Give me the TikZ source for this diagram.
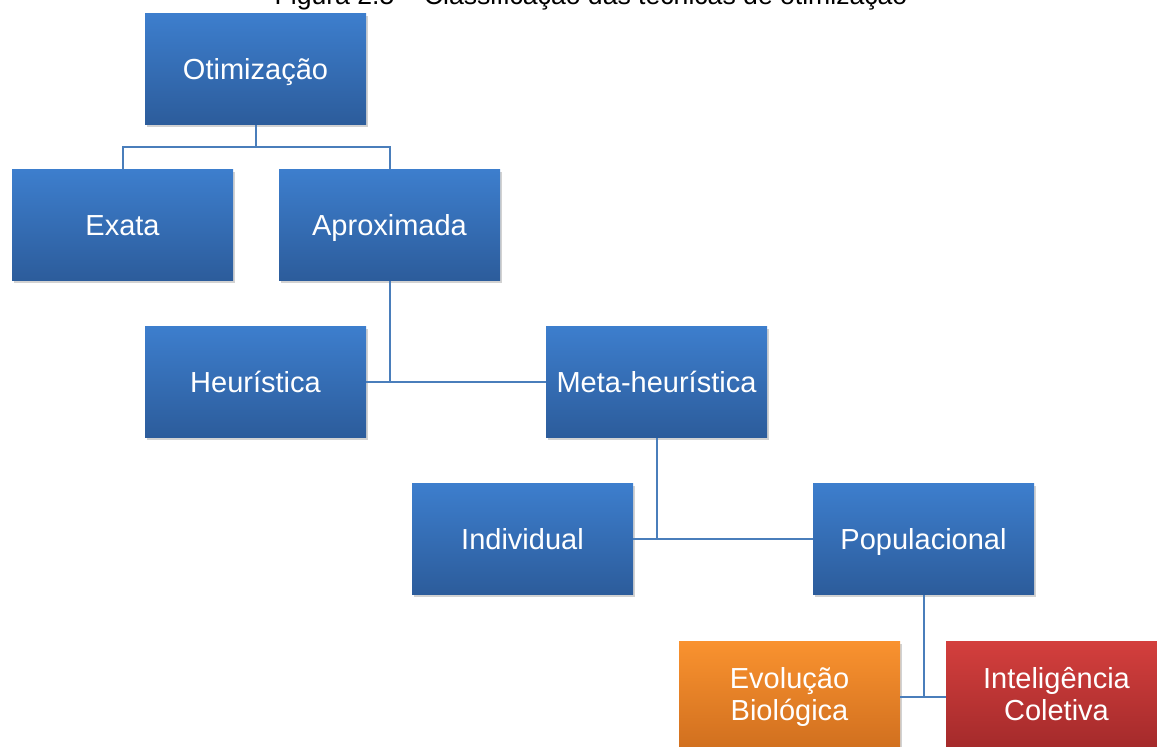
\documentclass[tikz,border=0pt]{standalone}
\usepackage{fontspec}
\setmainfont{Liberation Sans}
\usetikzlibrary{shadows}
\definecolor{boxtop}{HTML}{3D7ECD}
\definecolor{boxbot}{HTML}{2C5C9B}
\definecolor{orgtop}{HTML}{F9922F}
\definecolor{orgbot}{HTML}{CF6E1E}
\definecolor{redtop}{HTML}{D33F3D}
\definecolor{redbot}{HTML}{A2292A}
\definecolor{linkcol}{HTML}{4A7EBB}
% invisible rule taller and deeper than any glyph, so each label is centred on its capitals
\newcommand\linestrut{\rule[-3.6pt]{0pt}{17.6pt}}
\tikzset{
  stage/.style={rectangle, inner sep=0pt, minimum width=110.5pt, minimum height=55.5pt,
    top color=boxtop, bottom color=boxbot, text=white, align=center,
    font=\fontsize{14.5}{15.6}\selectfont,
    execute at begin node={\linestrut}, execute at end node={\linestrut},
    drop shadow={shadow xshift=1.2pt, shadow yshift=-1.2pt, opacity=0.25, fill=black!70}},
  orangestage/.style={stage, top color=orgtop, bottom color=orgbot},
  redstage/.style={stage, top color=redtop, bottom color=redbot},
  link/.style={draw=linkcol, line width=1pt}
}
\begin{document}
\begin{tikzpicture}[x=0.5pt, y=-0.5pt]
\useasboundingbox (0,0) rectangle (1157,747);
\node[anchor=base, font=\fontsize{13.3}{15}\selectfont] (caption) at (591,4.5)
  {Figura 2.5 – Classificação das técnicas de otimização};

\node[stage] (oti) at (255.5,69.5) {Otimização};
\node[stage] (exa) at (122.5,225.5) {Exata};
\node[stage] (apr) at (389.5,225.5) {Aproximada};
\node[stage] (heu) at (255.5,382) {Heurística};
\node[stage] (met) at (656.5,382) {Meta-heurística};
\node[stage] (ind) at (522.5,539) {Individual};
\node[stage] (pop) at (923.5,539) {Populacional};
\node[orangestage] (evo) at (789.5,697.5) {Evolução\\Biológica};
\node[redstage] (int) at (1056.5,697.5) {Inteligência\\Coletiva};

\coordinate (split) at (255.5,147);
\draw[link] (oti.south) -- (split);
\draw[link] (exa.north) |- (split) -| (apr.north);
\draw[link] (apr.south) |- (heu.east);
\draw[link] (heu.east) -- (met.west);
\draw[link] (met.south) |- (ind.east);
\draw[link] (ind.east) -- (pop.west);
\draw[link] (pop.south) |- (evo.east);
\draw[link] (evo.east) -- (int.west);
\end{tikzpicture}
\end{document}
